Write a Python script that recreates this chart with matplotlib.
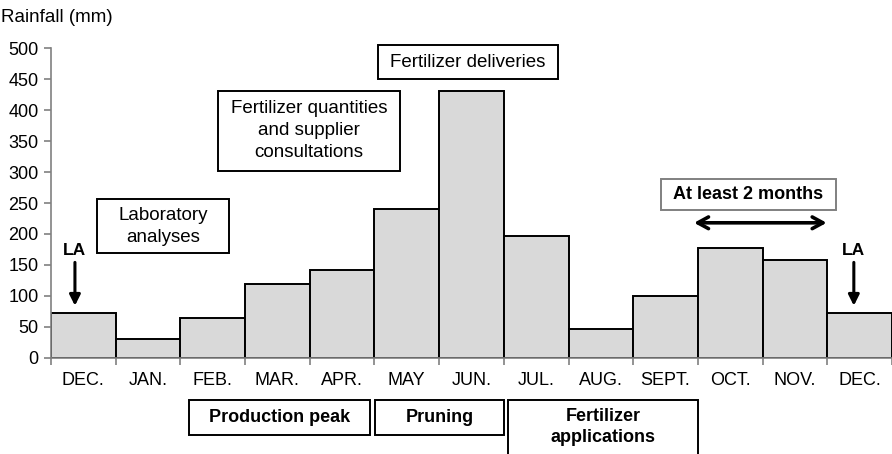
import numpy as np
import matplotlib
matplotlib.use("Agg")
import matplotlib.pyplot as plt
from matplotlib.patches import Rectangle

plt.rcParams['font.family'] = ['Liberation Sans', 'DejaVu Sans']

months = ['DEC.', 'JAN.', 'FEB.', 'MAR.', 'APR.', 'MAY', 'JUN.', 'JUL.',
          'AUG.', 'SEPT.', 'OCT.', 'NOV.', 'DEC.']
rainfall = [72, 30, 64, 119, 141, 241, 431, 196, 47, 100, 177, 158, 72]
yticks = [0, 50, 100, 150, 200, 250, 300, 350, 400, 450, 500]

fig = plt.figure(figsize=(8.92, 4.54), dpi=100)
ax = fig.add_axes([51 / 892, 96.3 / 454, 1 - 51 / 892, 309.4 / 454])

x = np.arange(len(months)) + 0.5
ax.bar(x, rainfall, width=1.0, color='#d9d9d9', edgecolor='black', linewidth=1.4)

ax.set_xlim(0, len(months))
ax.set_ylim(0, 500)
ax.set_yticks(yticks)
ax.set_xticks(np.arange(len(months) + 1))
ax.set_xticklabels([])
ax.set_xticks(x, minor=True)
ax.set_xticklabels(months, minor=True)
ax.tick_params(axis='x', which='major', length=5, color='#808080', width=1.2)
ax.tick_params(axis='x', which='minor', length=0, pad=10, labelsize=13)
ax.tick_params(axis='y', length=5, color='#808080', width=1.2, pad=4, labelsize=13)
for s in ['top', 'right']:
    ax.spines[s].set_visible(False)
for s in ['left', 'bottom']:
    ax.spines[s].set_color('#808080')
    ax.spines[s].set_linewidth(1.2)

fig.text(1 / 892, 1 - 17 / 454, 'Rainfall (mm)', fontsize=13.5, va='center', ha='left')


def box(x0, x1, y0, y1, text, bold=False, edge='black', size=13.5):
    ax.add_patch(Rectangle((x0, y0), x1 - x0, y1 - y0, facecolor='white',
                           edgecolor=edge, linewidth=1.4, clip_on=False, zorder=3))
    ax.text((x0 + x1) / 2, (y0 + y1) / 2, text, ha='center', va='center',
            fontsize=size, fontweight='bold' if bold else 'normal',
            linespacing=1.38, zorder=4, clip_on=False)


box(0.71, 2.75, 169, 256, 'Laboratory\nanalyses')
box(2.58, 5.39, 302, 431, 'Fertilizer quantities\nand supplier\nconsultations')
box(5.05, 7.84, 450, 505, 'Fertilizer deliveries')
box(9.43, 12.13, 239, 289, 'At least 2 months', bold=True, edge='#808080', size=13)
box(2.13, 4.93, -125, -68, 'Production peak', bold=True, size=13)
box(5.01, 7.0, -125, -68, 'Pruning', bold=True, size=13)
box(7.06, 10.0, -170, -68, '', bold=True)
ax.text(8.53, -112, 'Fertilizer\napplications', ha='center', va='center',
        fontsize=13, fontweight='bold', linespacing=1.38, clip_on=False, zorder=4)

ax.annotate('', xy=(9.94, 218), xytext=(11.99, 218),
            arrowprops=dict(arrowstyle='<->, head_length=0.55, head_width=0.3',
                            color='black', lw=2.6, mutation_scale=14,
                            shrinkA=0, shrinkB=0))

for lx in [0.37, 12.41]:
    ax.text(lx, 174, 'LA', ha='center', va='center', fontsize=12.5,
            fontweight='bold', clip_on=False)
    ax.annotate('', xy=(lx, 84), xytext=(lx, 154),
                arrowprops=dict(arrowstyle='-|>', color='black', lw=2.2,
                                mutation_scale=16, shrinkA=0, shrinkB=0))

fig.savefig('out.png', dpi=100)
